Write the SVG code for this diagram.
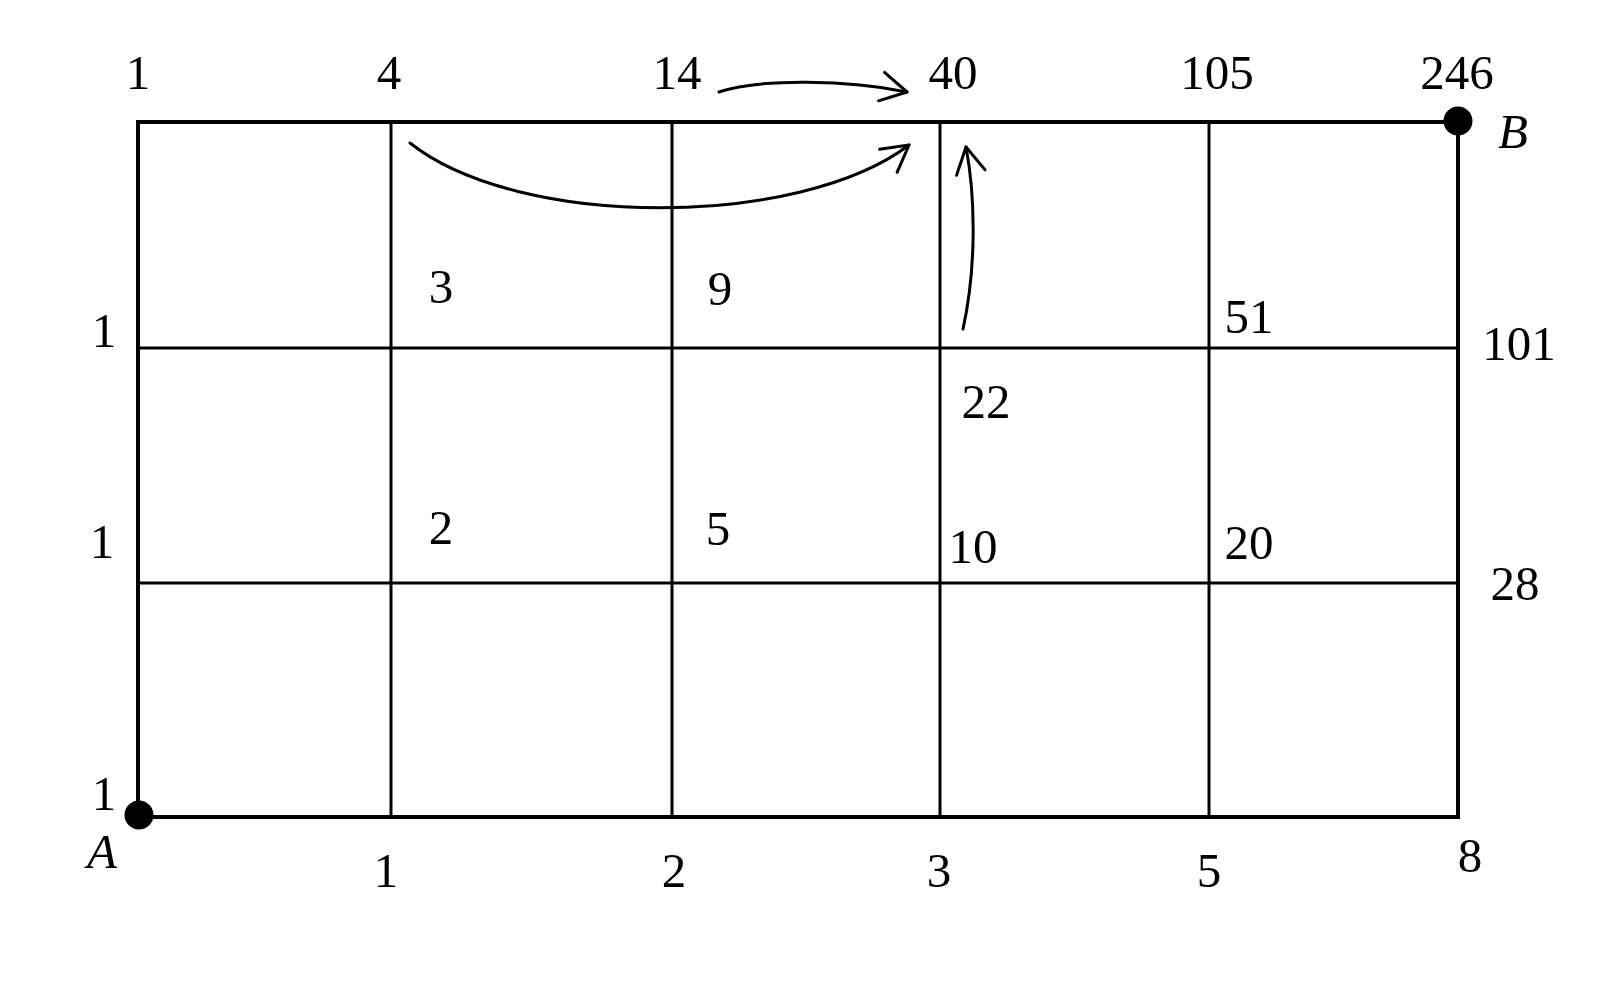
<svg xmlns="http://www.w3.org/2000/svg" width="1599" height="984" viewBox="0 0 1599 984">
<style>
  .outer { stroke: #000; stroke-width: 4; fill: none; stroke-linecap: square; }
  .inner { stroke: #000; stroke-width: 3; fill: none; }
  .lbl { font-family: "Liberation Serif", "DejaVu Serif", serif; font-size: 49px; fill: #000; text-anchor: middle; }
  .it { font-style: italic; }
  .arc { stroke: #000; stroke-width: 3; fill: none; stroke-linecap: round; }
  .dot { fill: #000; }
</style>
<defs>
  <marker id="head" markerUnits="userSpaceOnUse" markerWidth="40" markerHeight="40" viewBox="-35 -20 40 40" refX="0" refY="0" orient="auto">
    <path d="M-26,-14.5 L0,0 L-26,14.5" fill="none" stroke="#000" stroke-width="3" stroke-linecap="round" stroke-linejoin="round"/>
  </marker>
</defs>
<rect x="0" y="0" width="1599" height="984" fill="#fff"/>

<g id="grid">
  <line class="inner" x1="391" y1="122" x2="391" y2="817"/>
  <line class="inner" x1="672" y1="122" x2="672" y2="817"/>
  <line class="inner" x1="940" y1="122" x2="940" y2="817"/>
  <line class="inner" x1="1209" y1="122" x2="1209" y2="817"/>
  <line class="inner" x1="138" y1="348" x2="1458" y2="348"/>
  <line class="inner" x1="138" y1="583" x2="1458" y2="583"/>
  <rect class="outer" x="138" y="122" width="1320" height="695"/>
</g>

<g id="node-A">
  <circle class="dot" cx="139" cy="815" r="14.5"/>
  <text class="lbl it" x="102" y="868">A</text>
</g>
<g id="node-B">
  <circle class="dot" cx="1458" cy="121" r="14.5"/>
  <text class="lbl it" x="1513" y="148">B</text>
</g>

<g id="labels-top">
  <text class="lbl" x="138" y="89">1</text>
  <text class="lbl" x="389" y="89">4</text>
  <text class="lbl" x="677" y="89">14</text>
  <text class="lbl" x="953" y="89">40</text>
  <text class="lbl" x="1217" y="89">105</text>
  <text class="lbl" x="1457" y="89">246</text>
</g>
<g id="labels-left">
  <text class="lbl" x="104" y="347">1</text>
  <text class="lbl" x="102" y="558">1</text>
  <text class="lbl" x="104" y="810">1</text>
</g>
<g id="labels-right">
  <text class="lbl" x="1519" y="360">101</text>
  <text class="lbl" x="1515" y="600">28</text>
  <text class="lbl" x="1470" y="872">8</text>
</g>
<g id="labels-bottom">
  <text class="lbl" x="386" y="887">1</text>
  <text class="lbl" x="674" y="887">2</text>
  <text class="lbl" x="939" y="887">3</text>
  <text class="lbl" x="1209" y="887">5</text>
</g>
<g id="labels-inner">
  <text class="lbl" x="441" y="303">3</text>
  <text class="lbl" x="720" y="305">9</text>
  <text class="lbl" x="1249" y="333">51</text>
  <text class="lbl" x="986" y="418">22</text>
  <text class="lbl" x="441" y="544">2</text>
  <text class="lbl" x="718" y="545">5</text>
  <text class="lbl" x="973" y="563">10</text>
  <text class="lbl" x="1249" y="559">20</text>
</g>

<g id="connectors">
  <path class="arc" d="M719,92 C760,78 850,80 907,92" marker-end="url(#head)"/>
  <path class="arc" d="M410,143 C520,230 800,228 909,145" marker-end="url(#head)"/>
  <path class="arc" d="M963,329 C976,270 976,200 966,147" marker-end="url(#head)"/>
</g>
</svg>
